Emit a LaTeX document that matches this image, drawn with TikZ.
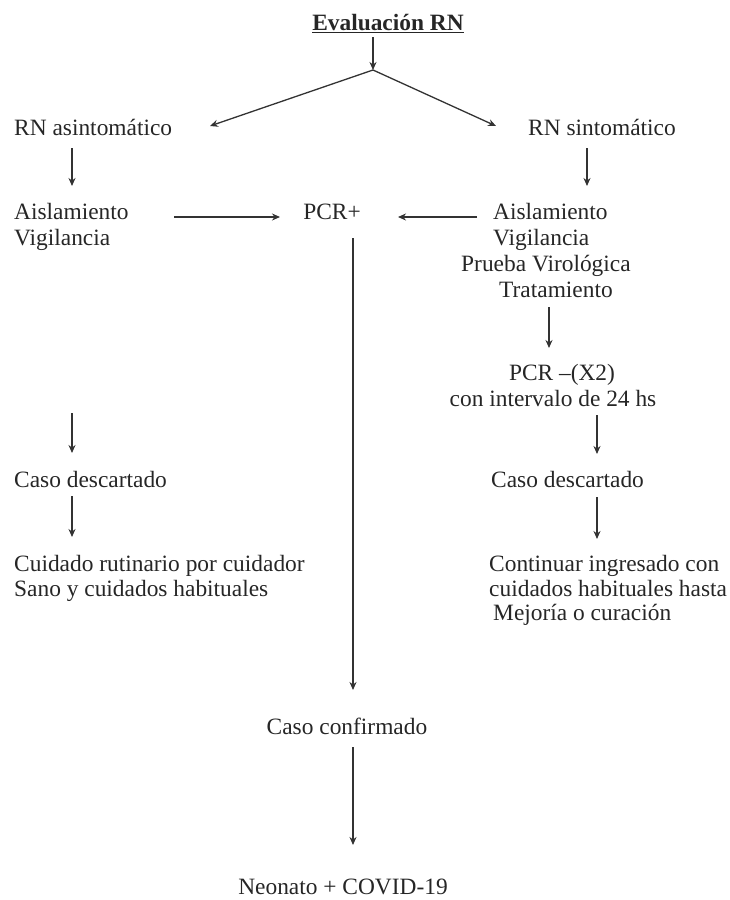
\documentclass[tikz,border=0pt]{standalone}
\usepackage{fontspec}
\setmainfont{Liberation Serif}
\usetikzlibrary{arrows.meta}
\begin{document}
\begin{tikzpicture}[x=1pt,y=-1pt,
  txt/.style={inner sep=0pt, anchor=base west, text=black!85, font=\fontsize{23.4}{26}\selectfont},
  ctxt/.style={txt, anchor=base},
  arr/.style={-{Stealth[length=8pt,width=7pt]}, line width=1.3pt, draw=black!80},
  ln/.style={line width=1.3pt, draw=black!80}]
\useasboundingbox (0,0) rectangle (729,900);
% texts
\node[ctxt, font=\fontsize{23.4}{26}\selectfont\bfseries] (title) at (388,30.5) {\underline{Evaluación RN}};
\node[txt] (asin) at (14,135.5) {RN asintomático};
\node[txt] (sin) at (528,135.5) {RN sintomático};
\node[txt] (aisL) at (14,219.5) {Aislamiento};
\node[txt] (vigL) at (14,245.5) {Vigilancia};
\node[ctxt] (pcr) at (332,219.5) {PCR+};
\node[txt] (aisR) at (493,219.5) {Aislamiento};
\node[txt] (vigR) at (493,245.5) {Vigilancia};
\node[txt] (prueba) at (461,271) {Prueba Virológica};
\node[txt] (trat) at (499,297.5) {Tratamiento};
\node[ctxt] (pcrx) at (562,380) {PCR –(X2)};
\node[ctxt] (inter) at (553,406.5) {con intervalo de 24 hs};
\node[txt] (cdR) at (491,487.5) {Caso descartado};
\node[txt] (cont1) at (489,571.5) {Continuar ingresado con};
\node[txt] (cont2) at (489,596.5) {cuidados habituales hasta};
\node[txt] (cont3) at (493,620.5) {Mejoría o curación};
\node[txt] (cdL) at (14,487.5) {Caso descartado};
\node[txt] (cuid1) at (14,571.5) {Cuidado rutinario por cuidador};
\node[txt] (cuid2) at (14,596.5) {Sano y cuidados habituales};
\node[ctxt] (conf) at (347,734.5) {Caso confirmado};
\node[ctxt] (neo) at (343,894.5) {Neonato + COVID-19};
% connector end points
\coordinate (t0) at (373,37);
\coordinate (split) at (373,70);
\coordinate (lt) at (210,126);
\coordinate (rt) at (496,126);
\coordinate (a1) at (72,148);  \coordinate (a2) at (72,186);
\coordinate (b1) at (587,148); \coordinate (b2) at (587,186);
\coordinate (c1) at (174,217); \coordinate (c2) at (280,217);
\coordinate (d1) at (477,217); \coordinate (d2) at (398,217);
\coordinate (e1) at (549,307); \coordinate (e2) at (549,348);
\coordinate (f1) at (597,415); \coordinate (f2) at (597,454);
\coordinate (g1) at (597,497); \coordinate (g2) at (597,539);
\coordinate (h1) at (72,413);  \coordinate (h2) at (72,453);
\coordinate (i1) at (72,496);  \coordinate (i2) at (72,537);
\coordinate (j1) at (353,238); \coordinate (j2) at (353,690);
\coordinate (k1) at (353,747); \coordinate (k2) at (353,845);
% connectors
\draw[arr] (t0) -- (split);
\draw[arr] (split) -- (lt);
\draw[arr] (split) -- (rt);
\draw[arr] (a1) -- (a2);
\draw[arr] (b1) -- (b2);
\draw[arr] (c1) -- (c2);
\draw[arr] (d1) -- (d2);
\draw[arr] (e1) -- (e2);
\draw[arr] (f1) -- (f2);
\draw[arr] (g1) -- (g2);
\draw[arr] (h1) -- (h2);
\draw[arr] (i1) -- (i2);
\draw[arr] (j1) -- (j2);
\draw[arr] (k1) -- (k2);
\end{tikzpicture}
\end{document}
